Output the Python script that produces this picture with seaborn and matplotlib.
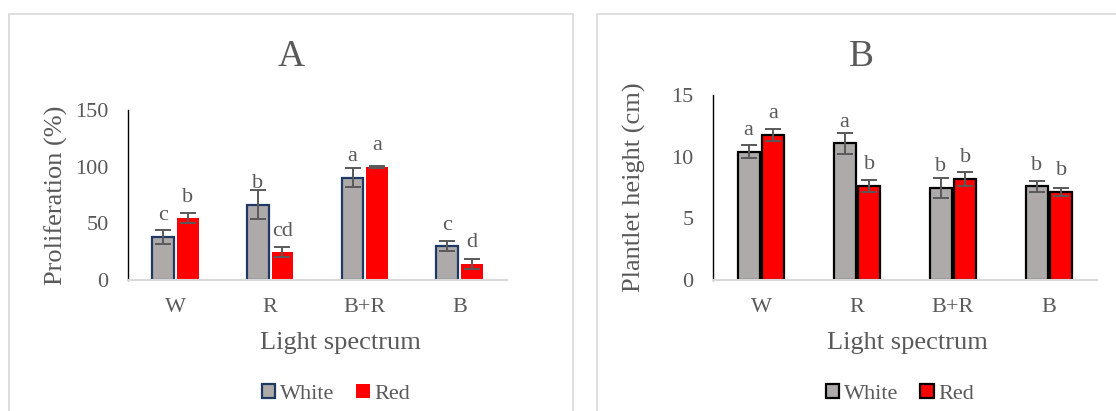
import pandas as pd
import matplotlib.pyplot as plt
import matplotlib.patches as mpatches
import seaborn as sns

# --- data ---
spectrum = ["W", "R", "B+R", "B"]
series = ["White", "Red"]

prolif_white = [38.0, 66.5, 90.3, 29.7]
prolif_white_err = [6.0, 12.5, 8.4, 4.3]
prolif_red = [54.4, 24.4, 99.7, 14.1]
prolif_red_err = [4.4, 4.4, 0.5, 4.3]
prolif_white_letters = ["c", "b", "a", "c"]
prolif_red_letters = ["b", "cd", "a", "d"]

height_white = [10.4, 11.08, 7.46, 7.6]
height_white_err = [0.52, 0.85, 0.8, 0.45]
height_red = [11.76, 7.62, 8.19, 7.14]
height_red_err = [0.45, 0.5, 0.55, 0.3]
height_white_letters = ["a", "a", "b", "b"]
height_red_letters = ["a", "b", "b", "b"]

GREY = "#AEAAAA"
RED = "#FF0000"
TXT = "#595959"

sns.set_style("white")
plt.rcParams['font.family'] = ['Liberation Serif', 'DejaVu Serif']

W, H = 1116, 411
fig = plt.figure(figsize=(W / 100, H / 100), dpi=100)


def long_df(white, red):
    return pd.DataFrame({
        "spectrum": spectrum * 2,
        "light": ["White"] * 4 + ["Red"] * 4,
        "value": list(white) + list(red),
    })


def draw_panel(rect, white, red, werr, rerr, wlet, rlet, ymax, step,
               ylabel, title, title_x, white_edge, red_edge, legend_x,
               ylabel_x, xlabel_x):
    ax = fig.add_axes(rect)
    df = long_df(white, red)
    sns.barplot(data=df, x="spectrum", y="value", hue="light",
                hue_order=series, palette=[GREY, RED], width=0.52, gap=0.12,
                errorbar=None, ax=ax, legend=False, saturation=1)
    edges = [white_edge, red_edge]
    errs = [werr, rerr]
    lets = [wlet, rlet]
    bar_groups = list(ax.containers)[:2]
    for i, cont in enumerate(bar_groups):
        for j, bar in enumerate(cont):
            if edges[i] is None:
                bar.set_edgecolor(RED)
                bar.set_linewidth(0)
            else:
                bar.set_edgecolor(edges[i])
                bar.set_linewidth(1.6)
            cx = bar.get_x() + bar.get_width() / 2
            top = bar.get_height()
            ax.errorbar(cx, top, yerr=errs[i][j], color=TXT, capsize=5.5,
                        elinewidth=1.4, capthick=1.4, zorder=5)
            ax.annotate(lets[i][j], (cx, top), xytext=(0, 12),
                        textcoords="offset points", ha="center",
                        va="baseline", fontsize=16, color=TXT)

    ax.set_ylim(0, ymax)
    ax.set_yticks(range(0, ymax + 1, step))
    ax.set_xlim(-0.5, 3.5)
    ax.tick_params(axis="both", length=0, labelsize=16, labelcolor=TXT)
    ax.tick_params(axis="y", pad=14)
    ax.tick_params(axis="x", pad=13)
    for s in ["top", "right"]:
        ax.spines[s].set_visible(False)
    ax.spines["left"].set_color("black")
    ax.spines["left"].set_linewidth(1.0)
    ax.spines["bottom"].set_color("#D9D9D9")
    ax.spines["bottom"].set_linewidth(1.5)

    ax_w_px = rect[2] * W
    ax_h_px = rect[3] * H
    ax.set_xlabel("Light spectrum", fontsize=19, color=TXT)
    ax.xaxis.set_label_coords((xlabel_x - rect[0] * W) / ax_w_px,
                              -52 / ax_h_px)
    ax.set_ylabel(ylabel, fontsize=19, color=TXT)
    ax.yaxis.set_label_coords((ylabel_x - rect[0] * W) / ax_w_px, 0.5)

    fig.text(title_x / W, 1 - 57 / H, title, fontsize=27, color=TXT,
             ha="center", va="center")

    handles = [
        mpatches.Patch(facecolor=GREY, edgecolor=white_edge, linewidth=1.6),
        mpatches.Patch(facecolor=RED,
                       edgecolor=red_edge if red_edge else RED,
                       linewidth=1.6 if red_edge else 0),
    ]
    fig.legend(handles, series, loc="center", ncol=2,
               bbox_to_anchor=(legend_x / W, 1 - 394 / H), frameon=False,
               fontsize=16, labelcolor=TXT, handlelength=0.6,
               handleheight=0.6, handletextpad=0.2, columnspacing=1.0)
    return ax


# chart area borders
fig.patches.append(mpatches.Rectangle((9 / W, -0.1), (573 - 9) / W,
                                      1.1 - 14 / H, transform=fig.transFigure,
                                      fill=False, edgecolor="#D9D9D9",
                                      linewidth=1.2))
fig.patches.append(mpatches.Rectangle((597 / W, -0.1), 0.5,
                                      1.1 - 14 / H, transform=fig.transFigure,
                                      fill=False, edgecolor="#D9D9D9",
                                      linewidth=1.2))

draw_panel([128 / W, 1 - 280 / H, 379 / W, 170 / H],
           prolif_white, prolif_red, prolif_white_err, prolif_red_err,
           prolif_white_letters, prolif_red_letters, 150, 50,
           "Proliferation (%)", "A", 291, "#1F3864", None, 336, 68, 340)

draw_panel([713 / W, 1 - 280 / H, 384 / W, 185 / H],
           height_white, height_red, height_white_err, height_red_err,
           height_white_letters, height_red_letters, 15, 5,
           "Plantlet height (cm)", "B", 861, "black", "black", 900, 646, 907)

fig.savefig("out.png", dpi=100)
